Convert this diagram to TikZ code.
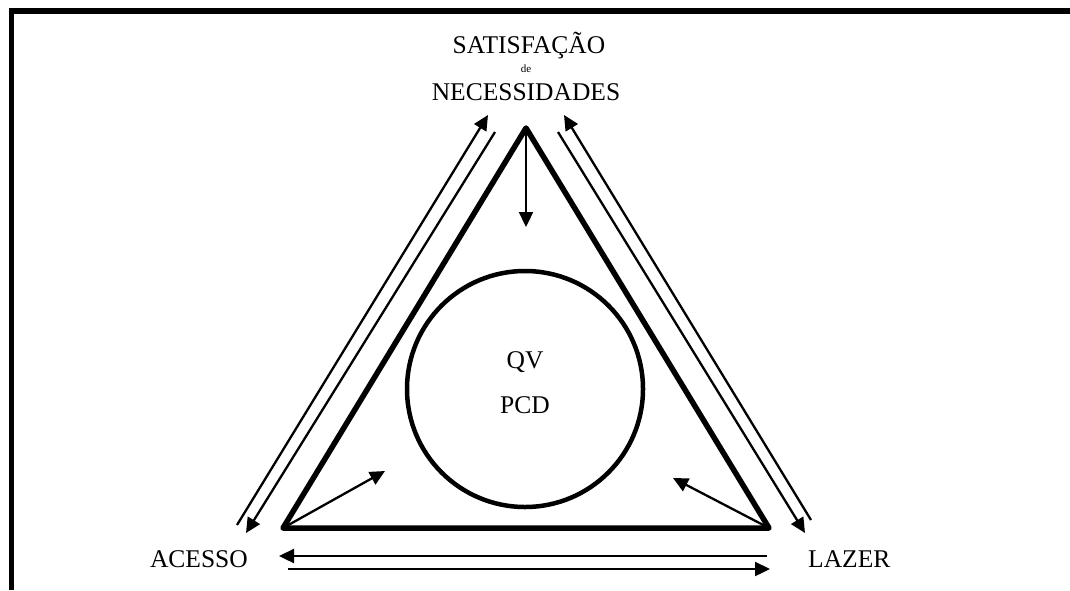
\documentclass[tikz,border=0pt]{standalone}
\usepackage{fontspec}
\setmainfont{Liberation Serif}
\usetikzlibrary{arrows.meta}
\begin{document}
\begin{tikzpicture}[x=1pt,y=-1pt,
  lbl/.style={inner sep=0pt,font=\fontsize{25.5}{30}\selectfont},
  small/.style={inner sep=0pt,font=\fontsize{11}{13}\selectfont},
  thin arrow/.style={line width=2.3pt,-{Triangle[length=15pt,width=14pt]}},
  tri/.style={line width=5.5pt,line join=round},
  ring/.style={line width=4.5pt}]
\useasboundingbox (0,0) rectangle (1070,590);
% frame
\draw[line width=5.5pt] (11.5,590) -- (11.5,11) -- (1070,11);
% triangle corners
\coordinate (T) at (526,128);
\coordinate (L) at (283,528);
\coordinate (R) at (769,528);
\draw[tri] (T) -- (L) -- (R) -- cycle;
% circle
\node[ring,draw,circle,minimum size=236pt,inner sep=0pt] (C) at (525,389) {};
% labels
\node[lbl,anchor=base] (sat) at (529,53) {SATISFAÇÃO};
\node[small,anchor=base] (de) at (526,72) {de};
\node[lbl,anchor=base] (nec) at (526,100) {NECESSIDADES};
\node[lbl,anchor=base] (qv) at (525,368) {QV};
\node[lbl,anchor=base] (pcd) at (525,413) {PCD};
\node[lbl,anchor=base east] (ac) at (248,567) {ACESSO};
\node[lbl,anchor=base west] (lz) at (808,567) {LAZER};
% arrow end points
\coordinate (tA) at (526,227);
\coordinate (lA) at (385,471);
\coordinate (rA) at (673,478);
\coordinate (lo1) at (237,525);
\coordinate (lo2) at (488,115);
\coordinate (li1) at (495,132);
\coordinate (li2) at (246,533);
\coordinate (ro1) at (811,520);
\coordinate (ro2) at (564,115);
\coordinate (ri1) at (558,132);
\coordinate (ri2) at (805,533);
\coordinate (bu1) at (767,556);
\coordinate (bu2) at (279,556);
\coordinate (bl1) at (288,569);
\coordinate (bl2) at (770,569);
% arrows
\draw[thin arrow] (T) -- (tA);
\draw[thin arrow] (L) -- (lA);
\draw[thin arrow] (R) -- (rA);
\draw[thin arrow] (lo1) -- (lo2);
\draw[thin arrow] (li1) -- (li2);
\draw[thin arrow] (ro1) -- (ro2);
\draw[thin arrow] (ri1) -- (ri2);
\draw[thin arrow] (bu1) -- (bu2);
\draw[thin arrow] (bl1) -- (bl2);
\end{tikzpicture}
\end{document}
